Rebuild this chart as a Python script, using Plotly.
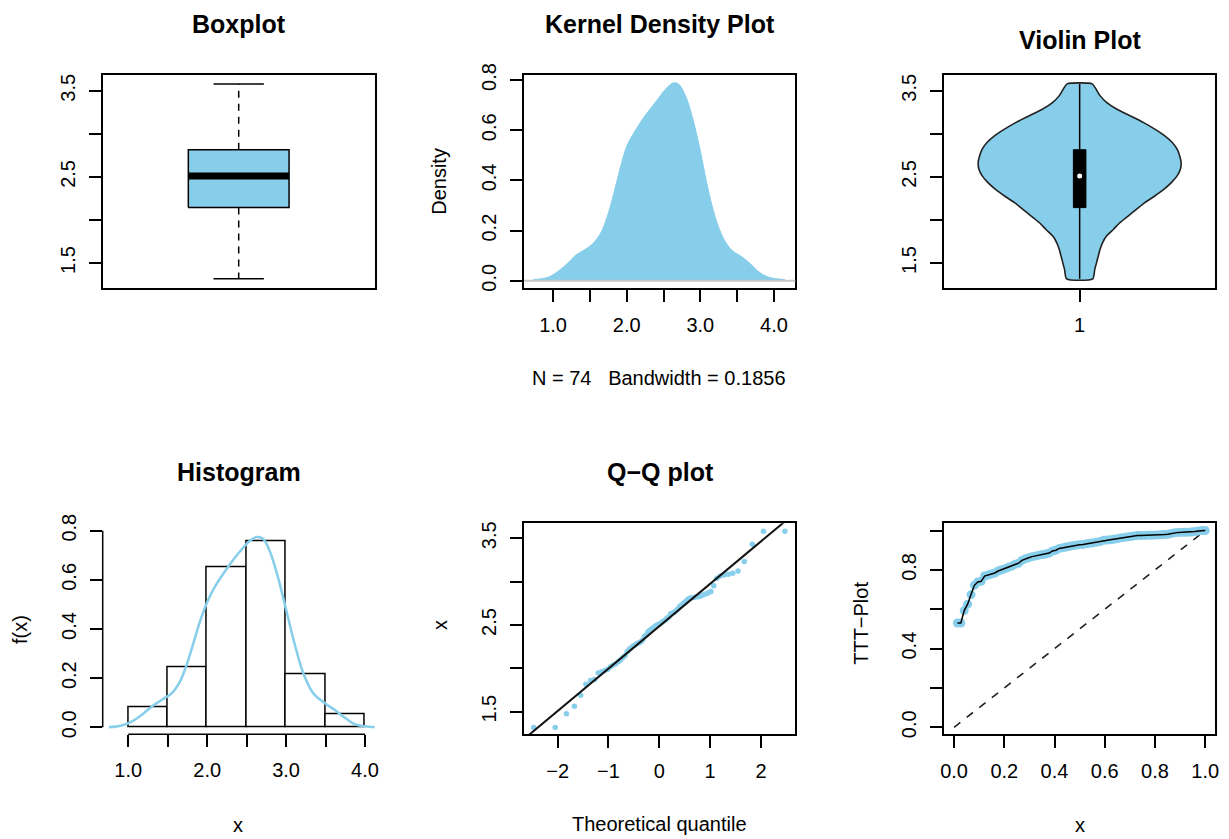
import numpy as np
import plotly.graph_objects as go
from statistics import NormalDist

# ---------------- data ----------------
sample = [1.317, 1.317, 1.477, 1.562, 1.690, 1.815, 1.860, 1.870, 1.945, 1.960,
          1.975, 1.990, 2.019, 2.038, 2.054, 2.077, 2.096, 2.125, 2.144, 2.192,
          2.219, 2.238, 2.258, 2.269, 2.285, 2.296, 2.308, 2.327, 2.369, 2.385,
          2.423, 2.438, 2.454, 2.469, 2.485, 2.496, 2.508, 2.515, 2.531, 2.546,
          2.558, 2.577, 2.596, 2.631, 2.638, 2.646, 2.665, 2.685, 2.712, 2.731,
          2.750, 2.769, 2.792, 2.808, 2.815, 2.816, 2.823, 2.827, 2.831, 2.846,
          2.858, 2.869, 2.885, 2.954, 3.038, 3.065, 3.077, 3.085, 3.096, 3.123,
          3.231, 3.431, 3.580, 3.580]

# boxplot five-number summary: min, lower hinge, median, upper hinge, max
box_stats = [1.317, 2.144, 2.512, 2.816, 3.580]

# kernel density curve (Kernel Density Plot panel)
dens_x = [0.734, 0.923, 1.059, 1.194, 1.307, 1.419, 1.532, 1.645, 1.735, 1.825,
          1.916, 2.006, 2.119, 2.254, 2.412, 2.547, 2.637, 2.705, 2.795, 2.885,
          2.998, 3.088, 3.201, 3.314, 3.427, 3.562, 3.675, 3.810, 3.945, 4.148]
dens_y = [0.005, 0.013, 0.036, 0.069, 0.102, 0.122, 0.146, 0.189, 0.255, 0.348,
          0.454, 0.540, 0.600, 0.660, 0.720, 0.770, 0.789, 0.784, 0.740, 0.660,
          0.521, 0.388, 0.255, 0.169, 0.122, 0.096, 0.069, 0.032, 0.013, 0.005]

# violin half-width profile
viol_y = [1.317, 1.424, 1.502, 1.580, 1.657, 1.735, 1.813, 1.890, 1.968, 2.046,
          2.123, 2.201, 2.279, 2.356, 2.434, 2.512, 2.589, 2.667, 2.745, 2.822,
          2.900, 2.978, 3.055, 3.133, 3.211, 3.288, 3.366, 3.444, 3.521, 3.580]
viol_hw = [0.052, 0.060, 0.067, 0.074, 0.081, 0.091, 0.107, 0.134, 0.160, 0.193,
           0.226, 0.259, 0.299, 0.335, 0.365, 0.388, 0.401, 0.404, 0.398, 0.388,
           0.369, 0.339, 0.299, 0.253, 0.200, 0.147, 0.107, 0.081, 0.065, 0.050]

# histogram (density scale)
hist_left = [1.0, 1.5, 2.0, 2.5, 3.0, 3.5]
hist_dens = [0.081, 0.243, 0.649, 0.757, 0.216, 0.054]
hist_binw = 0.5

# density curve drawn over the histogram
hc_x = [0.755, 0.916, 1.042, 1.169, 1.296, 1.422, 1.549, 1.655, 1.739, 1.824,
        1.908, 1.993, 2.098, 2.246, 2.394, 2.542, 2.635, 2.711, 2.796, 2.901,
        3.007, 3.112, 3.218, 3.345, 3.493, 3.619, 3.746, 3.873, 4.000, 4.126]
hc_y = [0.000, 0.007, 0.023, 0.050, 0.084, 0.111, 0.138, 0.186, 0.253, 0.341,
        0.430, 0.504, 0.572, 0.644, 0.707, 0.759, 0.774, 0.766, 0.714, 0.606,
        0.470, 0.335, 0.220, 0.138, 0.098, 0.070, 0.039, 0.012, 0.004, 0.000]

# tick labels
y_ticks_35 = [1.5, 2.0, 2.5, 3.0, 3.5]
y_text_35 = ["1.5", "", "2.5", "", "3.5"]
dens_xticks = [1.0, 1.5, 2.0, 2.5, 3.0, 3.5, 4.0]
dens_xtext = ["1.0", "", "2.0", "", "3.0", "", "4.0"]
dens_yticks = [0.0, 0.2, 0.4, 0.6, 0.8]
dens_ytext = ["0.0", "0.2", "0.4", "0.6", "0.8"]
qq_xticks = [-2, -1, 0, 1, 2]
qq_xtext = ["\u22122", "\u22121", "0", "1", "2"]
ttt_ticks = [0.0, 0.2, 0.4, 0.6, 0.8, 1.0]
ttt_xtext = ["0.0", "0.2", "0.4", "0.6", "0.8", "1.0"]
ttt_ytext = ["0.0", "", "0.4", "", "0.8", ""]

# ---------------- derived quantities ----------------
xs = np.array(sorted(sample))
n = len(xs)
theo = np.array([NormalDist().inv_cdf((i - 0.5) / n) for i in range(1, n + 1)])
q1, q3 = np.quantile(xs, [0.25, 0.75])
z1, z3 = NormalDist().inv_cdf(0.25), NormalDist().inv_cdf(0.75)
slope = (q3 - q1) / (z3 - z1)
inter = q1 - slope * z1
ttt_x = np.arange(1, n + 1) / n
cums = np.cumsum(xs)
ttt_y = (cums + (n - np.arange(1, n + 1)) * xs) / cums[-1]

# ---------------- layout geometry ----------------
W, H = 1229, 839
def dom_x(a, b):
    return [a / W, b / W]
def dom_y(top, bot):
    return [1 - bot / H, 1 - top / H]

COLS = [(102.7, 374.7), (524.0, 795.3), (944.0, 1215.3)]
ROWS = [(75.3, 288.3), (523.3, 734.3)]
FONT = "Liberation Sans, Arial, Helvetica, sans-serif"
SKY = "#87CEEB"

def axis(domain, rng, tickvals=None, ticktext=None, frame=True, angle=0, standoff=6):
    d = dict(domain=domain, range=rng, showgrid=False, zeroline=False,
             showline=frame, mirror=frame, linecolor="black", linewidth=1.5,
             tickfont=dict(family=FONT, size=20, color="black"),
             tickangle=angle, fixedrange=True, automargin=False)
    if tickvals is not None:
        d.update(tickmode="array", tickvals=tickvals, ticktext=ticktext,
                 ticks="outside", ticklen=12, tickwidth=1.5, tickcolor="black",
                 ticklabelstandoff=standoff)
    else:
        d.update(ticks="", showticklabels=False)
    return d

fig = go.Figure()
BLACK = dict(color="black", width=1.5)

# ---- Panel 1: boxplot ----
bmin, bq1, bmed, bq3, bmax = box_stats
fig.add_trace(go.Scatter(x=[0.8, 1.2, 1.2, 0.8, 0.8], y=[bq1, bq1, bq3, bq3, bq1],
                         fill="toself", fillcolor=SKY, mode="lines", line=BLACK,
                         xaxis="x", yaxis="y", hoverinfo="skip"))
fig.add_trace(go.Scatter(x=[0.8, 1.2], y=[bmed, bmed], mode="lines",
                         line=dict(color="black", width=7), xaxis="x", yaxis="y"))
for a, b in [(bq3, bmax), (bq1, bmin)]:
    fig.add_trace(go.Scatter(x=[1, 1], y=[a, b], mode="lines",
                             line=dict(color="black", width=1.5, dash="7px,6px"),
                             xaxis="x", yaxis="y"))
for v in [bmin, bmax]:
    fig.add_trace(go.Scatter(x=[0.9, 1.1], y=[v, v], mode="lines", line=BLACK,
                             xaxis="x", yaxis="y"))

# ---- Panel 2: kernel density ----
fig.add_trace(go.Scatter(x=dens_x, y=dens_y, mode="lines", fill="tozeroy",
                         fillcolor=SKY, line=dict(color=SKY, width=1, shape="spline"),
                         xaxis="x2", yaxis="y2"))

# ---- Panel 3: violin ----
vx = [1 + w for w in viol_hw] + [1 - w for w in viol_hw[::-1]] + [1 + viol_hw[0]]
vy = list(viol_y) + list(viol_y[::-1]) + [viol_y[0]]
fig.add_trace(go.Scatter(x=vx, y=vy, mode="lines", fill="toself", fillcolor=SKY,
                         line=dict(color="#222222", width=1.6, shape="spline", smoothing=0.6),
                         xaxis="x3", yaxis="y3"))
fig.add_trace(go.Scatter(x=[1, 1], y=[bmin, bmax], mode="lines", line=BLACK,
                         xaxis="x3", yaxis="y3"))
fig.add_trace(go.Scatter(x=[0.975, 1.025, 1.025, 0.975, 0.975], y=[bq1, bq1, bq3, bq3, bq1],
                         mode="lines", fill="toself", fillcolor="black",
                         line=dict(color="black", width=1), xaxis="x3", yaxis="y3"))
fig.add_trace(go.Scatter(x=[1], y=[bmed], mode="markers",
                         marker=dict(color="white", size=5), xaxis="x3", yaxis="y3"))

# ---- Panel 4: histogram ----
fig.add_trace(go.Bar(x=[l + hist_binw / 2 for l in hist_left], y=hist_dens, width=hist_binw,
                     marker=dict(color="white", line=dict(color="black", width=1.5)),
                     xaxis="x4", yaxis="y4"))
fig.add_trace(go.Scatter(x=hc_x, y=hc_y, mode="lines",
                         line=dict(color=SKY, width=2.5, shape="spline"),
                         xaxis="x4", yaxis="y4"))

# ---- Panel 5: Q-Q plot ----
fig.add_trace(go.Scatter(x=theo, y=xs, mode="markers",
                         marker=dict(color=SKY, size=5.5), xaxis="x5", yaxis="y5"))
qx = np.array([-3.0, 3.0])
fig.add_trace(go.Scatter(x=qx, y=inter + slope * qx, mode="lines",
                         line=dict(color="#111111", width=2), xaxis="x5", yaxis="y5"))

# ---- Panel 6: TTT plot ----
fig.add_trace(go.Scatter(x=[0, 1], y=[0, 1], mode="lines",
                         line=dict(color="#222222", width=1.6, dash="8px,8px"),
                         xaxis="x6", yaxis="y6"))
fig.add_trace(go.Scatter(x=ttt_x, y=ttt_y, mode="markers",
                         marker=dict(color=SKY, size=9), xaxis="x6", yaxis="y6"))
fig.add_trace(go.Scatter(x=ttt_x, y=ttt_y, mode="lines",
                         line=dict(color="black", width=1.5), xaxis="x6", yaxis="y6"))

# ---------------- axes ----------------
yr35 = [1.207, 3.680]
fig.update_layout(
    xaxis=axis(dom_x(*COLS[0]), [0.46, 1.54]),
    yaxis=axis(dom_y(*ROWS[0]), yr35, y_ticks_35, y_text_35, angle=-90),
    xaxis2=axis(dom_x(*COLS[1]), [0.605, 4.29], dens_xticks, dens_xtext),
    yaxis2=axis(dom_y(*ROWS[0]), [-0.030, 0.819], dens_yticks, dens_ytext, angle=-90),
    xaxis3=axis(dom_x(*COLS[2]), [0.46, 1.54], [1], ["1"]),
    yaxis3=axis(dom_y(*ROWS[0]), yr35, y_ticks_35, y_text_35, angle=-90),
    xaxis4=axis(dom_x(*COLS[0]), [0.676, 4.123], dens_xticks, dens_xtext, frame=False),
    yaxis4=axis(dom_y(*ROWS[1]), [-0.0285, 0.830], dens_yticks, dens_ytext, frame=False, angle=-90),
    xaxis5=axis(dom_x(*COLS[1]), [-2.662, 2.675], qq_xticks, qq_xtext),
    yaxis5=axis(dom_y(*ROWS[1]), [1.239, 3.673], y_ticks_35, y_text_35, angle=-90),
    xaxis6=axis(dom_x(*COLS[2]), [-0.04, 1.04], ttt_ticks, ttt_xtext),
    yaxis6=axis(dom_y(*ROWS[1]), [-0.0356, 1.037], ttt_ticks, ttt_ytext, angle=-90),
)
for k in ["xaxis", "xaxis2", "xaxis3", "xaxis4", "xaxis5", "xaxis6"]:
    fig.layout[k].anchor = "y" + k[5:]
for k in ["yaxis", "yaxis2", "yaxis3", "yaxis4", "yaxis5", "yaxis6"]:
    fig.layout[k].anchor = "x" + k[5:]

# ---------------- shapes ----------------
shapes = [
    dict(type="line", xref="x2 domain", yref="y2", x0=0, x1=1, y0=0, y1=0,
         line=dict(color="#C8C8C8", width=2), layer="above"),
    dict(type="line", xref="x4", yref="y4 domain", x0=1, x1=4, y0=0, y1=0,
         line=dict(color="black", width=1.5)),
    dict(type="line", xref="x4 domain", yref="y4", x0=0, x1=0, y0=0, y1=0.8,
         line=dict(color="black", width=1.5)),
]

# ---------------- text ----------------
def ann(text, x, y, size=20, angle=0):
    return dict(text=text, x=x / W, y=1 - y / H, xref="paper", yref="paper",
                xanchor="center", yanchor="middle", showarrow=False, textangle=angle,
                font=dict(family=FONT, size=size, color="black"))

annotations = [
    ann("<b>Boxplot</b>", 239, 24.2, 25),
    ann("<b>Kernel Density Plot</b>", 660, 24.0, 25),
    ann("<b>Violin Plot</b>", 1079.8, 40.3, 25),
    ann("<b>Histogram</b>", 239.2, 471.8, 25),
    ann("<b>Q\u2212Q plot</b>", 660, 472, 25),
    ann("Density", 439, 181.8, 20, -90),
    ann("N = 74\u00a0\u00a0\u00a0Bandwidth = 0.1856", 659.2, 377.5, 20),
    ann("f(x)", 20, 630, 20, -90),
    ann("x", 238.5, 825, 20),
    ann("x", 440, 625, 20, -90),
    ann("Theoretical quantile", 659.5, 824, 20),
    ann("TTT\u2212Plot", 861.5, 623.3, 20, -90),
    ann("x", 1080, 825, 20),
]

fig.update_layout(width=W, height=H, margin=dict(l=0, r=0, t=0, b=0, pad=0, autoexpand=False),
                  paper_bgcolor="white", plot_bgcolor="white", showlegend=False,
                  shapes=shapes, annotations=annotations, bargap=0)

fig.write_html("out.html")
